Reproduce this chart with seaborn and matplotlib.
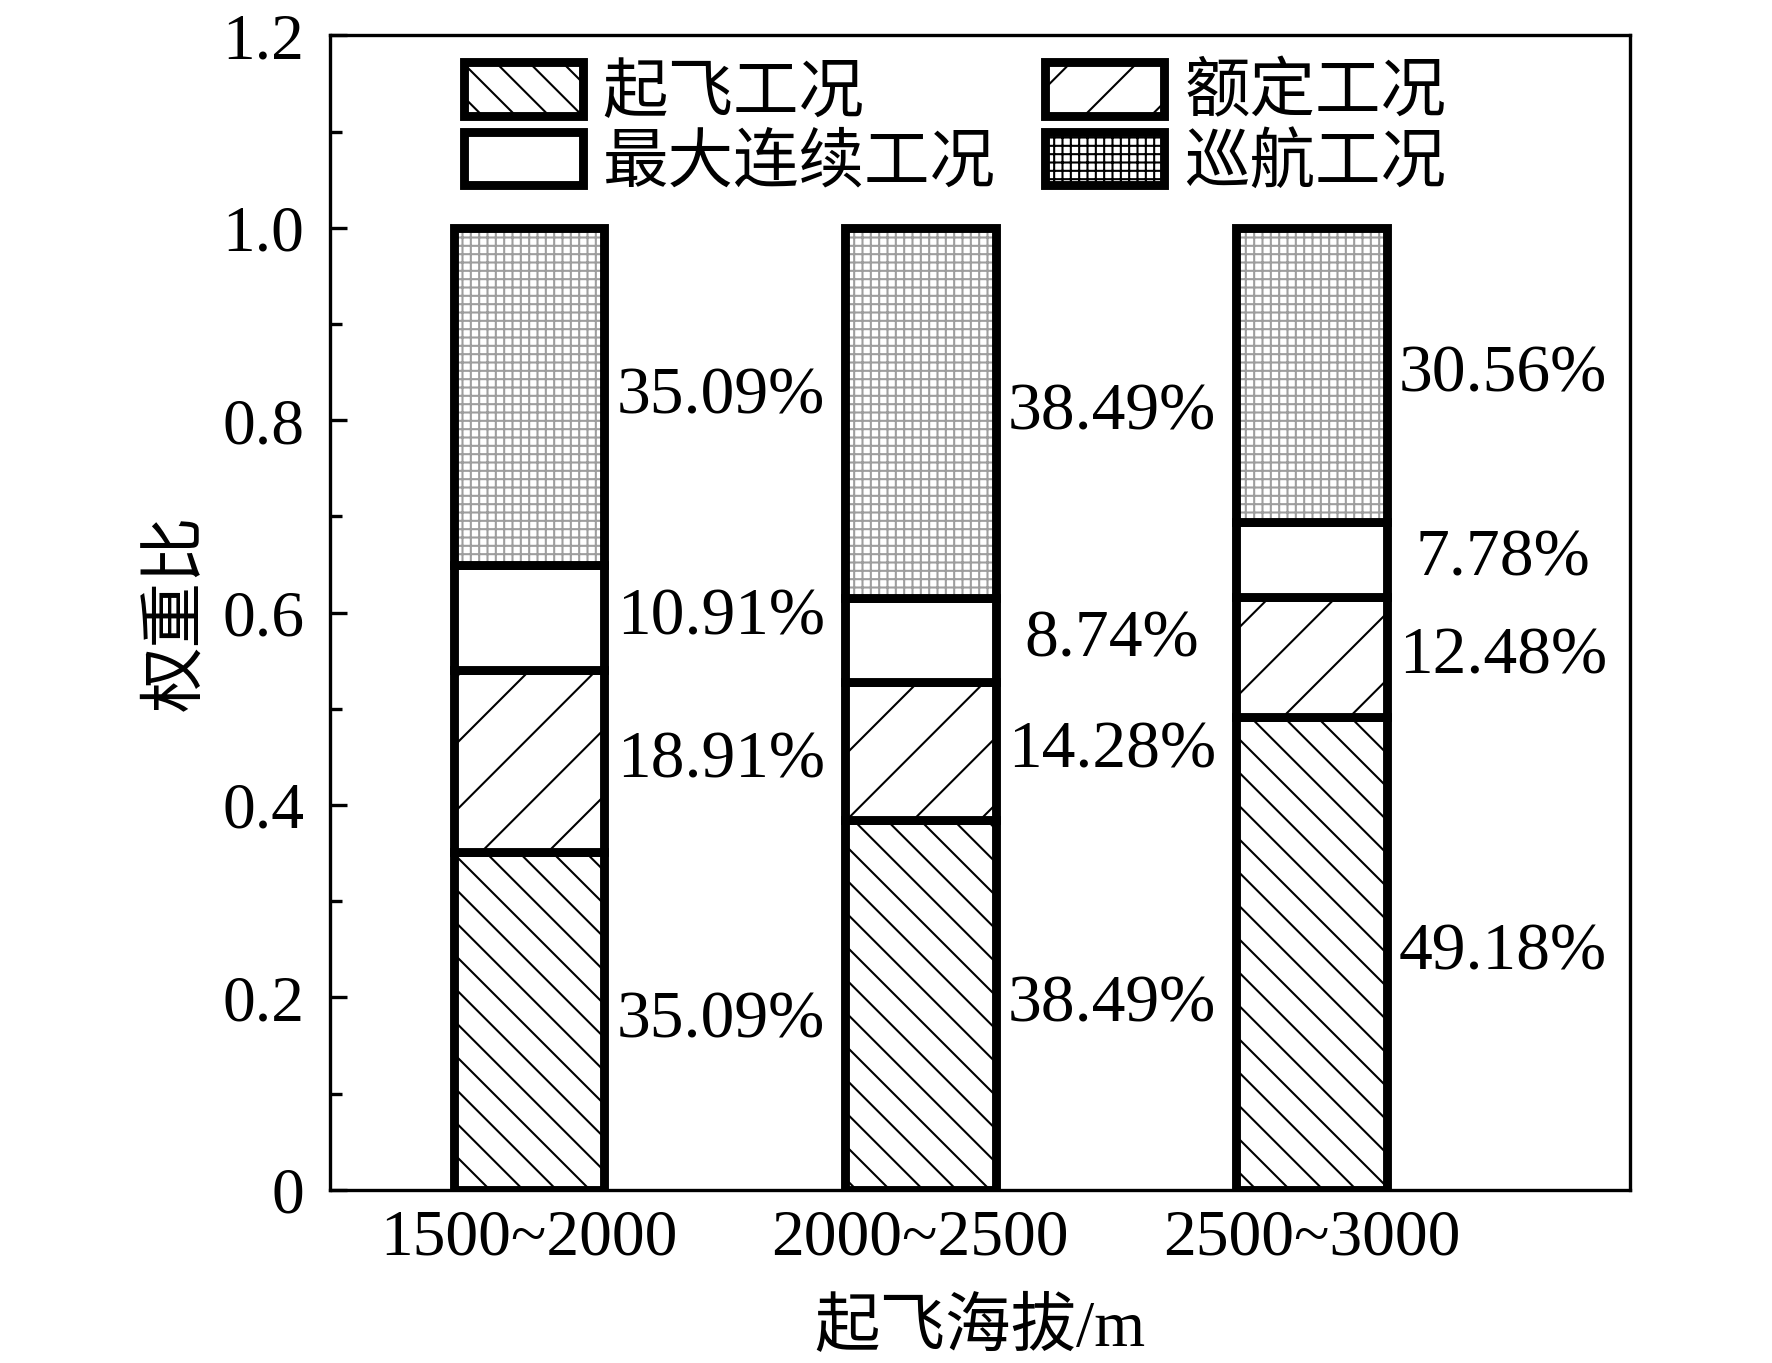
import matplotlib
matplotlib.use('Agg')
import matplotlib.pyplot as plt
import numpy as np
import seaborn as sns
from matplotlib.patches import Patch
from matplotlib.ticker import MultipleLocator

# data (percent of weight per condition)
altitudes = ['1500~2000', '2000~2500', '2500~3000']
takeoff = [35.09, 38.49, 49.18]
rated = [18.91, 14.28, 12.48]
max_cont = [10.91, 8.74, 7.78]
cruise = [35.09, 38.49, 30.56]
names = ['起飞工况', '额定工况', '最大连续工况', '巡航工况']
yticks = [0, 0.2, 0.4, 0.6, 0.8, 1.0, 1.2]
ytick_labels = ['0', '0.2', '0.4', '0.6', '0.8', '1.0', '1.2']

sns.set_theme(style='ticks', rc={'text.color': 'black', 'axes.labelcolor': 'black',
                                 'xtick.color': 'black', 'ytick.color': 'black',
                                 'axes.edgecolor': 'black'})
plt.rcParams['font.family'] = ['Liberation Serif', 'Noto Sans CJK SC']
plt.rcParams['hatch.linewidth'] = 0.75

fs = 23.6
lw_bar = 3.2
bw = 0.385

fig = plt.figure(figsize=(8.86, 6.815), dpi=200)
ax = fig.add_axes([0.186, 0.127, 0.734, 0.847])

series = [takeoff, rated, max_cont, cruise]
hatches = ['\\\\', '/', '', '++++']
bottom = np.zeros(3)
for vals, h in zip(series, hatches):
    v = np.array(vals) / 100
    if h == '++++':
        # light dotted grid for cruise, then a black outline on top
        sns.barplot(x=altitudes, y=v, bottom=bottom, width=bw, color='white',
                    saturation=1, errorbar=None, hatch=h, edgecolor='0.62',
                    linewidth=0, ax=ax)
        sns.barplot(x=altitudes, y=v, bottom=bottom, width=bw, color='white',
                    saturation=1, errorbar=None, facecolor='none', edgecolor='black',
                    linewidth=lw_bar, ax=ax)
    else:
        sns.barplot(x=altitudes, y=v, bottom=bottom, width=bw, color='white',
                    saturation=1, errorbar=None, hatch=h, edgecolor='black',
                    linewidth=lw_bar, ax=ax)
    for i in range(3):
        ax.text(i + 0.49, bottom[i] + v[i] / 2, f'{vals[i]:.2f}%', ha='center',
                va='center', fontsize=24.3)
    bottom = bottom + v

ax.set_xlim(-0.51, 2.815)
ax.set_ylim(0, 1.2)
ax.set_yticks(yticks, ytick_labels)
ax.yaxis.set_minor_locator(MultipleLocator(0.1))
ax.tick_params(axis='y', which='major', direction='in', length=6, width=1.2,
               labelsize=fs, pad=9)
ax.tick_params(axis='y', which='minor', direction='in', length=4.3, width=1.2)
ax.tick_params(axis='x', length=0, labelsize=fs, pad=7)
for s in ax.spines.values():
    s.set_linewidth(1.2)
    s.set_color('black')

ax.set_xlabel('起飞海拔/m', fontsize=fs, labelpad=11)
ax.set_ylabel('权重比', fontsize=fs, labelpad=5)

handles = [Patch(facecolor='white', edgecolor='black', hatch='\\\\', linewidth=lw_bar),
           Patch(facecolor='white', edgecolor='black', linewidth=lw_bar),
           Patch(facecolor='white', edgecolor='black', hatch='/', linewidth=lw_bar),
           Patch(facecolor='white', edgecolor='0.62', hatch='++++', linewidth=lw_bar)]
labels = [names[0], names[2], names[1], names[3]]
leg = ax.legend(handles, labels, ncol=2, loc='upper left', bbox_to_anchor=(0.078, 1.005),
                frameon=False, fontsize=fs, handlelength=1.82, handleheight=0.87,
                handletextpad=0.3, columnspacing=0.75, labelspacing=0.1, borderpad=0)
leg.legend_handles[3].set_edgecolor('black')

fig.savefig('out.png', dpi=200)
